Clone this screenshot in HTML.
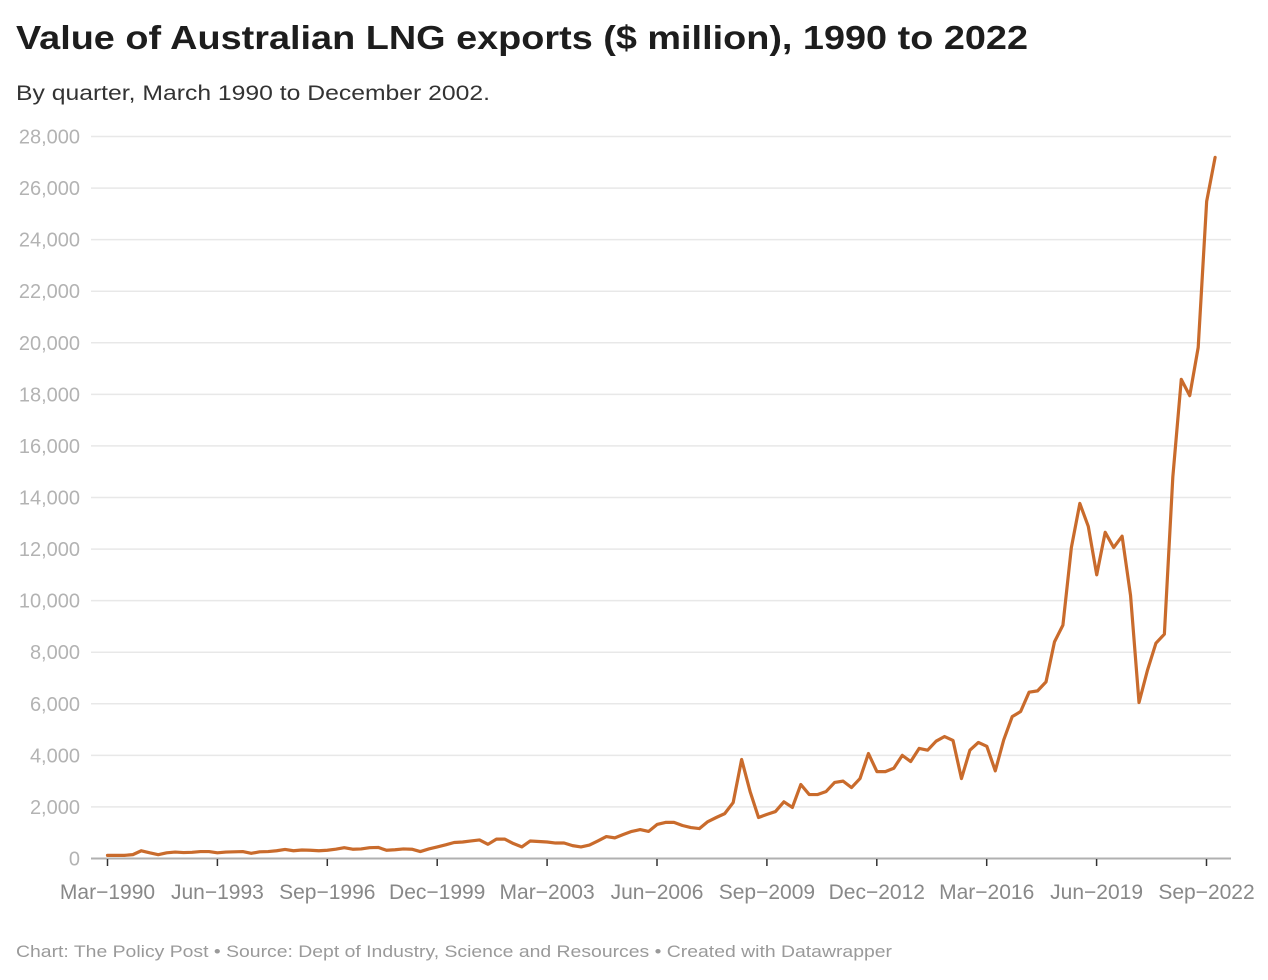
<!DOCTYPE html>
<html>
<head>
<meta charset="utf-8">
<style>
  html, body { margin:0; padding:0; background:#ffffff; }
  body { width:1268px; height:980px; overflow:hidden; }
  svg { display:block; }
  text { font-family: "Liberation Sans", "DejaVu Sans", sans-serif; }
</style>
</head>
<body>
<svg width="1268" height="980" viewBox="0 0 1268 980" xmlns="http://www.w3.org/2000/svg">
  <rect x="0" y="0" width="1268" height="980" fill="#ffffff"/>

  <!-- Title & subtitle -->
  <text x="16" y="49" font-size="33" font-weight="bold" fill="#1d1d1d" textLength="1012" lengthAdjust="spacingAndGlyphs">Value of Australian LNG exports ($ million), 1990 to 2022</text>
  <text x="16" y="100" font-size="21" fill="#333333" textLength="474" lengthAdjust="spacingAndGlyphs">By quarter, March 1990 to December 2002.</text>

  <!-- Gridlines -->
  <g stroke="#e8e8e8" stroke-width="1.5">
    <line x1="91" x2="1231" y1="136.5" y2="136.5"/>
    <line x1="91" x2="1231" y1="188.1" y2="188.1"/>
    <line x1="91" x2="1231" y1="239.6" y2="239.6"/>
    <line x1="91" x2="1231" y1="291.2" y2="291.2"/>
    <line x1="91" x2="1231" y1="342.8" y2="342.8"/>
    <line x1="91" x2="1231" y1="394.4" y2="394.4"/>
    <line x1="91" x2="1231" y1="445.9" y2="445.9"/>
    <line x1="91" x2="1231" y1="497.5" y2="497.5"/>
    <line x1="91" x2="1231" y1="549.1" y2="549.1"/>
    <line x1="91" x2="1231" y1="600.6" y2="600.6"/>
    <line x1="91" x2="1231" y1="652.2" y2="652.2"/>
    <line x1="91" x2="1231" y1="703.8" y2="703.8"/>
    <line x1="91" x2="1231" y1="755.4" y2="755.4"/>
    <line x1="91" x2="1231" y1="806.9" y2="806.9"/>
  </g>

  <!-- Y labels -->
  <g font-size="20" fill="#b3b3b3" text-anchor="end">
    <text x="80" y="143.5">28,000</text>
    <text x="80" y="195.1">26,000</text>
    <text x="80" y="246.6">24,000</text>
    <text x="80" y="298.2">22,000</text>
    <text x="80" y="349.8">20,000</text>
    <text x="80" y="401.4">18,000</text>
    <text x="80" y="452.9">16,000</text>
    <text x="80" y="504.5">14,000</text>
    <text x="80" y="556.1">12,000</text>
    <text x="80" y="607.6">10,000</text>
    <text x="80" y="659.2">8,000</text>
    <text x="80" y="710.8">6,000</text>
    <text x="80" y="762.4">4,000</text>
    <text x="80" y="813.9">2,000</text>
    <text x="80" y="865.5">0</text>
  </g>

  <!-- Axis line -->
  <line x1="91" x2="1231" y1="858.5" y2="858.5" stroke="#b0b0b0" stroke-width="2"/>

  <!-- Ticks -->
  <g stroke="#333333" stroke-width="1.5">
    <line x1="107.5" x2="107.5" y1="859" y2="866"/>
    <line x1="217.4" x2="217.4" y1="859" y2="866"/>
    <line x1="327.3" x2="327.3" y1="859" y2="866"/>
    <line x1="437.2" x2="437.2" y1="859" y2="866"/>
    <line x1="547.1" x2="547.1" y1="859" y2="866"/>
    <line x1="657.0" x2="657.0" y1="859" y2="866"/>
    <line x1="766.9" x2="766.9" y1="859" y2="866"/>
    <line x1="876.8" x2="876.8" y1="859" y2="866"/>
    <line x1="986.7" x2="986.7" y1="859" y2="866"/>
    <line x1="1096.6" x2="1096.6" y1="859" y2="866"/>
    <line x1="1206.5" x2="1206.5" y1="859" y2="866"/>
  </g>

  <!-- X labels -->
  <g font-size="21" fill="#888888" text-anchor="middle">
    <text x="107.5" y="899">Mar−1990</text>
    <text x="217.4" y="899">Jun−1993</text>
    <text x="327.3" y="899">Sep−1996</text>
    <text x="437.2" y="899">Dec−1999</text>
    <text x="547.1" y="899">Mar−2003</text>
    <text x="657.0" y="899">Jun−2006</text>
    <text x="766.9" y="899">Sep−2009</text>
    <text x="876.8" y="899">Dec−2012</text>
    <text x="986.7" y="899">Mar−2016</text>
    <text x="1096.6" y="899">Jun−2019</text>
    <text x="1206.5" y="899">Sep−2022</text>
  </g>

  <!-- Data line -->
  <g transform="translate(107.5,858.5) scale(8.455,-25.786)">
    <polyline fill="none" stroke="#c96b2c" stroke-width="3.2" stroke-linejoin="round" stroke-linecap="round" vector-effect="non-scaling-stroke"
      points="0,0.12 1,0.12 2,0.12 3,0.15 4,0.3 5,0.22 6,0.15 7,0.22 8,0.25 9,0.23 10,0.24 11,0.27 12,0.27 13,0.22 14,0.25 15,0.26 16,0.27 17,0.2 18,0.26 19,0.27 20,0.3 21,0.35 22,0.3 23,0.33 24,0.32 25,0.3 26,0.32 27,0.36 28,0.42 29,0.36 30,0.37 31,0.42 32,0.43 33,0.32 34,0.34 35,0.37 36,0.36 37,0.27 38,0.37 39,0.45 40,0.53 41,0.62 42,0.64 43,0.68 44,0.72 45,0.55 46,0.75 47,0.75 48,0.58 49,0.45 50,0.68 51,0.66 52,0.64 53,0.6 54,0.6 55,0.5 56,0.45 57,0.52 58,0.68 59,0.85 60,0.8 61,0.93 62,1.05 63,1.12 64,1.05 65,1.32 66,1.4 67,1.4 68,1.28 69,1.2 70,1.16 71,1.43 72,1.59 73,1.74 74,2.17 75,3.84 76,2.6 77,1.59 78,1.71 79,1.82 80,2.2 81,1.98 82,2.87 83,2.48 84,2.48 85,2.6 86,2.95 87,3.0 88,2.75 89,3.1 90,4.07 91,3.37 92,3.37 93,3.5 94,4.0 95,3.76 96,4.27 97,4.2 98,4.55 99,4.73 100,4.58 101,3.1 102,4.2 103,4.5 104,4.35 105,3.4 106,4.6 107,5.5 108,5.7 109,6.45 110,6.5 111,6.85 112,8.4 113,9.05 114,12.06 115,13.77 116,12.88 117,11.0 118,12.65 119,12.06 120,12.5 121,10.2 122,6.05 123,7.3 124,8.35 125,8.7 126,14.8 127,18.58 128,17.95 129,19.82 130,25.48 131,27.19"/>
  </g>

  <!-- Footer -->
  <text x="16" y="957" font-size="17" fill="#9a9a9a" textLength="876" lengthAdjust="spacingAndGlyphs">Chart: The Policy Post • Source: Dept of Industry, Science and Resources • Created with Datawrapper</text>
</svg>
</body>
</html>
